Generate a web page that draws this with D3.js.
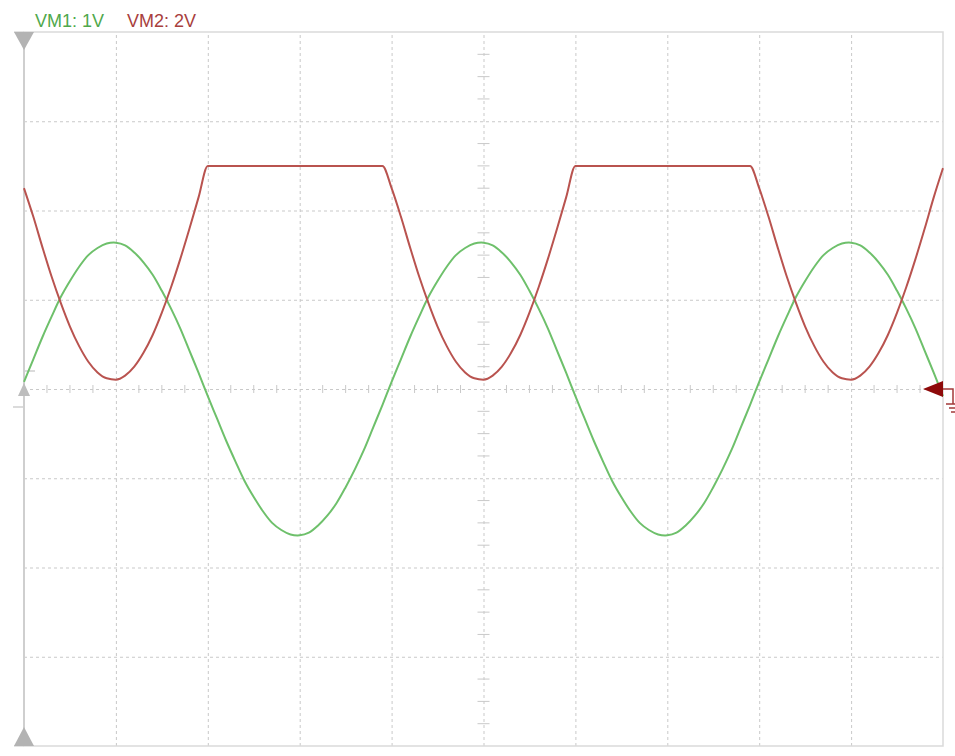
<!DOCTYPE html>
<html>
<head>
<meta charset="utf-8">
<script src="https://cdn.jsdelivr.net/npm/d3@7"></script>
<style>
  body { margin: 0; background: #fff; }
  svg { display: block; font-family: "Liberation Sans", Arial, sans-serif; }
</style>
</head>
<body>
<div id="scope"></div>
<script>
// samples every 0.1 div, 10 divisions across
const step = 0.1;
// VM1 (volts, 1 V/div)
const vm1 = [
  0.08,0.33,0.58,0.81,1.03,1.21,1.37,1.50,1.58,1.63,1.64,1.61,1.53,1.42,1.28,1.10,0.90,0.68,0.43,0.18,
  -0.08,-0.33,-0.58,-0.81,-1.03,-1.21,-1.37,-1.50,-1.58,-1.63,-1.64,-1.61,-1.53,-1.42,-1.28,-1.10,-0.90,-0.68,-0.43,-0.18,
  0.08,0.33,0.58,0.81,1.03,1.21,1.37,1.50,1.58,1.63,1.64,1.61,1.53,1.42,1.28,1.10,0.90,0.68,0.43,0.18,
  -0.08,-0.33,-0.58,-0.81,-1.03,-1.21,-1.37,-1.50,-1.58,-1.63,-1.64,-1.61,-1.53,-1.42,-1.28,-1.10,-0.90,-0.68,-0.43,-0.18,
  0.08,0.33,0.58,0.81,1.03,1.21,1.37,1.50,1.58,1.63,1.64,1.61,1.53,1.42,1.28,1.10,0.90,0.68,0.43,0.18,
  -0.08
];
// VM2 (volts, 2 V/div), flat where it saturates
const vm2 = [
  4.50,3.87,3.18,2.52,1.93,1.40,0.96,0.61,0.37,0.24,0.21,0.30,0.50,0.81,1.21,1.71,2.28,2.91,3.59,4.30,
  5.00,5.00,5.00,5.00,5.00,5.00,5.00,5.00,5.00,5.00,5.00,5.00,5.00,5.00,5.00,5.00,5.00,5.00,5.00,5.00,
  4.50,3.87,3.18,2.52,1.93,1.40,0.96,0.61,0.37,0.24,0.21,0.30,0.50,0.81,1.21,1.71,2.28,2.91,3.59,4.30,
  5.00,5.00,5.00,5.00,5.00,5.00,5.00,5.00,5.00,5.00,5.00,5.00,5.00,5.00,5.00,5.00,5.00,5.00,5.00,5.00,
  4.50,3.87,3.18,2.52,1.93,1.40,0.96,0.61,0.37,0.24,0.21,0.30,0.50,0.81,1.21,1.71,2.28,2.91,3.59,4.30,
  4.95
];
const channels = [
  { label: "VM1: 1V", perDiv: 1, values: vm1, line: "#6ec06b", text: "#4fa84c", curve: d3.curveCatmullRom.alpha(0.5) },
  { label: "VM2: 2V", perDiv: 2, values: vm2, line: "#b9534f", text: "#a8403d", curve: d3.curveMonotoneX }
];
const xDivs = d3.range(1, 10);
const yDivs = d3.range(-3, 4);

const width = 955, height = 756;
const pLeft = 24, pRight = 943, pTop = 32, pBottom = 746;

const svg = d3.select("#scope").append("svg").attr("width", width).attr("height", height);
const x = d3.scaleLinear().domain([0, 10]).range([pLeft, pRight]);
const y = d3.scaleLinear().domain([-4, 4]).range([pBottom, pTop]);

// grid
svg.append("g").attr("transform", `translate(0,${pBottom})`)
  .call(d3.axisBottom(x).tickValues(xDivs).tickSize(-(pBottom - pTop)).tickFormat(""))
  .call(g => g.select(".domain").remove())
  .call(g => g.selectAll("line").attr("stroke", "#c9c9c9").attr("stroke-dasharray", "3,3"));
svg.append("g").attr("transform", `translate(${pLeft},0)`)
  .call(d3.axisLeft(y).tickValues(yDivs).tickSize(-(pRight - pLeft)).tickFormat(""))
  .call(g => g.select(".domain").remove())
  .call(g => g.selectAll("line").attr("stroke", "#c9c9c9").attr("stroke-dasharray", "3,3"));

// minor ticks on centre lines
const minorX = d3.range(0.25, 10, 0.25).filter(v => v % 1 !== 0);
const minorY = d3.range(-3.75, 4, 0.25).filter(v => v % 1 !== 0);
svg.append("g").selectAll("line").data(minorX).join("line")
  .attr("x1", d => x(d)).attr("x2", d => x(d))
  .attr("y1", y(0) - 4).attr("y2", y(0) + 4)
  .attr("stroke", "#c9c9c9");
svg.append("g").selectAll("line").data(minorY).join("line")
  .attr("x1", x(5) - 6).attr("x2", x(5) + 6)
  .attr("y1", d => y(d)).attr("y2", d => y(d))
  .attr("stroke", "#c9c9c9");

// frame
svg.append("rect").attr("x", pLeft).attr("y", pTop).attr("width", pRight - pLeft).attr("height", pBottom - pTop)
  .attr("fill", "none").attr("stroke", "#dadada").attr("stroke-width", 1.5);
svg.append("line").attr("x1", 14).attr("x2", pLeft).attr("y1", pTop).attr("y2", pTop).attr("stroke", "#dadada").attr("stroke-width", 1.5);
svg.append("line").attr("x1", 14).attr("x2", pLeft).attr("y1", pBottom).attr("y2", pBottom).attr("stroke", "#dadada").attr("stroke-width", 1.5);
svg.append("line").attr("x1", pLeft).attr("x2", pLeft).attr("y1", pTop).attr("y2", pBottom).attr("stroke", "#cfcfcf").attr("stroke-width", 2);
svg.append("line").attr("x1", pLeft).attr("x2", pLeft + 11).attr("y1", 371).attr("y2", 371).attr("stroke", "#cfcfcf").attr("stroke-width", 1.5);
svg.append("line").attr("x1", 13).attr("x2", pLeft).attr("y1", 407).attr("y2", 407).attr("stroke", "#cfcfcf").attr("stroke-width", 1.5);

// traces
channels.forEach(ch => {
  const line = d3.line()
    .x((d, i) => x(i * step))
    .y(d => y(d / ch.perDiv))
    .curve(ch.curve);
  svg.append("path").datum(ch.values)
    .attr("fill", "none").attr("stroke", ch.line).attr("stroke-width", 2)
    .attr("stroke-linejoin", "round").attr("d", line);
});

// markers
svg.append("path").attr("d", `M${pLeft - 10},${pTop} L${pLeft + 10},${pTop} L${pLeft},${pTop + 18} Z`).attr("fill", "#b3b3b3");
svg.append("path").attr("d", `M${pLeft - 10},${pBottom} L${pLeft + 10},${pBottom} L${pLeft},${pBottom - 19} Z`).attr("fill", "#b3b3b3");
svg.append("path").attr("d", `M${pLeft - 6},${y(0) + 7} L${pLeft + 6},${y(0) + 7} L${pLeft},${y(0) - 6} Z`).attr("fill", "#bdbdbd");
svg.append("path").attr("d", `M${pRight},${y(0) - 8} L${pRight},${y(0) + 8} L${pRight - 20},${y(0)} Z`).attr("fill", "#8e0a0a");
svg.append("path")
  .attr("d", `M${pRight},${y(0)} L${pRight + 10},${y(0)} L${pRight + 10},${y(0) + 15} M${pRight + 3},${y(0) + 15} L${pRight + 17},${y(0) + 15} M${pRight + 6},${y(0) + 19} L${pRight + 14},${y(0) + 19} M${pRight + 8},${y(0) + 23} L${pRight + 12},${y(0) + 23}`)
  .attr("fill", "none").attr("stroke", "#a33a3a").attr("stroke-width", 1.5);

// legend
let lx = 35;
channels.forEach(ch => {
  const t = svg.append("text").attr("x", lx).attr("y", 26.5).attr("font-size", "18px").attr("fill", ch.text).text(ch.label);
  lx += t.node().getComputedTextLength() + 23;
});
</script>
</body>
</html>
